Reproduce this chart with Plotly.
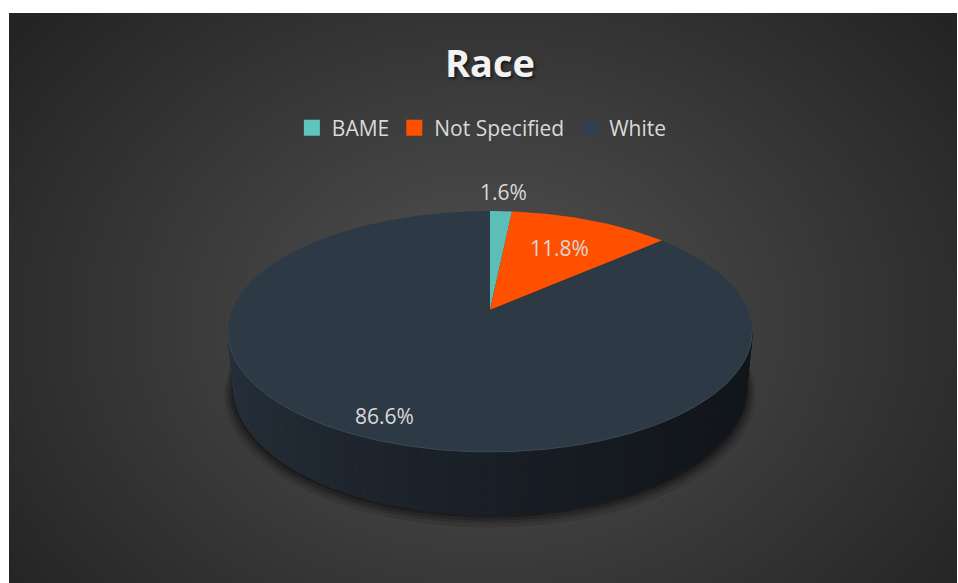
import base64
import struct
import zlib

import numpy as np
import plotly.graph_objects as go

# ---- data -------------------------------------------------------------
categories = ["BAME", "Not Specified", "White"]
shares = [1.6, 11.8, 86.6]  # percent

# ---- styling ----------------------------------------------------------
top_colors = ["#5cbfb7", "#ff5000", "#2e3946"]
legend_colors = ["#5ec4bc", "#ff5000", "#333f4e"]
label_radius = [1.24, 0.66, 0.86]     # label distance from centre, in pie radii
text_color = "#d9d9d9"
font_family = "Open Sans"

W, H = 958, 583
# chart area (the dark panel) in pixels
area_x0, area_y0, area_x1, area_y1 = 9, 13, 957, 583

# ---- simple perspective camera for a tilted 3D pie --------------------
CX, CY = 490.0, 310.0      # screen position of the pie centre
FOCAL = 1290.0
DIST = 5.0
TILT_S, TILT_C = 0.452, 0.892
DEPTH = 0.245              # pie thickness, in pie radii


def project(X, Y, Z):
    X, Y, Z = np.asarray(X, float), np.asarray(Y, float), np.asarray(Z, float)
    d = DIST + Y * TILT_C - Z * TILT_S
    sx = CX + FOCAL * X / d
    sy = CY - FOCAL * (Y * TILT_S + Z * TILT_C) / d
    return sx, sy


def rim(theta_deg, z=0.0, r=1.0):
    t = np.radians(np.asarray(theta_deg, float))
    return project(r * np.sin(t), r * np.cos(t), np.full_like(t, z, dtype=float))


def hex_rgb(h):
    h = h.lstrip("#")
    return tuple(int(h[i:i + 2], 16) for i in (0, 2, 4))


# slice angles, clockwise from 12 o'clock
total = float(sum(shares))
bounds = np.concatenate([[0.0], np.cumsum(shares) / total * 360.0])

# ---- radial gradient background as an in-memory PNG ------------------
def gradient_png():
    w, h = area_x1 - area_x0, area_y1 - area_y0
    xs = np.arange(w) + area_x0 + 0.5
    ys = np.arange(h) + area_y0 + 0.5
    gx, gy = np.meshgrid(xs, ys)
    r = np.sqrt(((gx - 488) / 600.0) ** 2 + ((gy - 320) / 470.0) ** 2)
    r = np.clip(r, 0, 1)
    lum = (82 - 46 * r).astype(np.uint8)
    raw = b"".join(b"\x00" + row.tobytes() for row in lum)

    def chunk(tag, data):
        c = struct.pack(">I", len(data)) + tag + data
        return c + struct.pack(">I", zlib.crc32(tag + data) & 0xFFFFFFFF)

    png = b"\x89PNG\r\n\x1a\n"
    png += chunk(b"IHDR", struct.pack(">IIBBBBB", w, h, 8, 0, 0, 0, 0))
    png += chunk(b"IDAT", zlib.compress(raw, 9))
    png += chunk(b"IEND", b"")
    return "data:image/png;base64," + base64.b64encode(png).decode()


fig = go.Figure()


def add_poly(xs, ys, color, edge=None):
    fig.add_trace(go.Scatter(
        x=list(xs) + [xs[0]], y=list(ys) + [ys[0]], mode="lines", fill="toself",
        fillcolor=color, line=dict(width=0.8 if edge else 0, color=edge or color),
        showlegend=False, hoverinfo="skip"))


# ---- soft shadow under the pie ----------------------------------------
th_full = np.linspace(0, 360, 361)
for grow, drop, alpha in [(1.035, 6, 0.10), (1.025, 4, 0.14), (1.015, 3, 0.18), (1.006, 1.5, 0.25)]:
    sx, sy = rim(th_full, -DEPTH, grow)
    add_poly(sx, sy + drop, f"rgba(0,0,0,{alpha})")

# ---- pie side wall (front half), shaded left to right -----------------
th_s = np.linspace(0, 360, 1441)
top_x, _ = rim(th_s)
th_right = th_s[np.argmax(top_x)]
th_left = th_s[np.argmin(top_x)]
x_min, x_max = top_x.min(), top_x.max()

for i, name in enumerate(categories):
    a0, a1 = max(bounds[i], th_right), min(bounds[i + 1], th_left)
    if a1 <= a0:
        continue
    base = hex_rgb(top_colors[i])
    steps = np.linspace(a0, a1, max(2, int((a1 - a0) / 1.5) + 1))
    tx, ty = rim(steps, 0.0)
    bx, by = rim(steps, -DEPTH)
    for j in range(len(steps) - 1):
        mx = 0.5 * (tx[j] + tx[j + 1])
        t = (mx - x_min) / (x_max - x_min)
        f = 0.85 - 0.47 * t ** 0.6
        col = "rgb({},{},{})".format(*(int(round(c * f)) for c in base))
        add_poly([tx[j], tx[j + 1], bx[j + 1], bx[j]],
                 [ty[j], ty[j + 1], by[j + 1], by[j]], col, edge=col)

# ---- top faces of the slices ------------------------------------------
for i, name in enumerate(categories):
    arc = np.linspace(bounds[i], bounds[i + 1], max(3, int(bounds[i + 1] - bounds[i]) * 2))
    ax, ay = rim(arc)
    xs = np.concatenate([[CX], ax, [CX]])
    ys = np.concatenate([[CY], ay, [CY]])
    fig.add_trace(go.Scatter(
        x=xs, y=ys, mode="lines", fill="toself", fillcolor=top_colors[i],
        line=dict(width=0, color=top_colors[i]), showlegend=False,
        hoveron="fills", name=name, text=f"{name}: {shares[i]:.1f}%", hoverinfo="text"))

# faint highlight along the front edge of the top face
hx, hy = rim(np.linspace(th_right, th_left, 200))
fig.add_trace(go.Scatter(x=hx, y=hy, mode="lines", line=dict(color="rgba(66,80,96,0.8)", width=1),
                         showlegend=False, hoverinfo="skip"))

# ---- legend entries ---------------------------------------------------
for i, name in enumerate(categories):
    fig.add_trace(go.Scatter(x=[None], y=[None], mode="markers", name=name,
                             marker=dict(symbol="square", size=16, color=legend_colors[i])))

# ---- data labels ------------------------------------------------------
annotations = []
for i, name in enumerate(categories):
    mid = np.radians(0.5 * (bounds[i] + bounds[i + 1]))
    r = label_radius[i]
    lx, ly = project(r * np.sin(mid), r * np.cos(mid), 0.0)
    annotations.append(dict(x=float(lx), y=float(ly), xref="x", yref="y",
                            text=f"{shares[i]:.1f}%", showarrow=False,
                            font=dict(family=font_family, size=21, color=text_color)))

annotations.append(dict(x=490, y=62, xref="x", yref="y", text="<b>Race</b>", showarrow=False,
                        font=dict(family=font_family, size=38, color="#f2f2f2",
                                  shadow="2px 2px 3px rgba(0,0,0,0.55)")))

fig.update_layout(
    width=W, height=H, margin=dict(l=0, r=0, t=0, b=0),
    paper_bgcolor="#ffffff", plot_bgcolor="rgba(0,0,0,0)",
    xaxis=dict(range=[0, W], visible=False, fixedrange=True),
    yaxis=dict(range=[H, 0], visible=False, fixedrange=True),
    annotations=annotations,
    images=[dict(source=gradient_png(), xref="x", yref="y", x=area_x0, y=area_y0,
                 sizex=area_x1 - area_x0, sizey=area_y1 - area_y0,
                 sizing="stretch", xanchor="left", yanchor="top", layer="below")],
    legend=dict(orientation="h", x=0.503, xanchor="center", y=1 - 128 / H, yanchor="middle",
                font=dict(family=font_family, size=21, color=text_color),
                bgcolor="rgba(0,0,0,0)", itemclick=False, itemdoubleclick=False),
    showlegend=True,
)

fig.write_html("out.html")
